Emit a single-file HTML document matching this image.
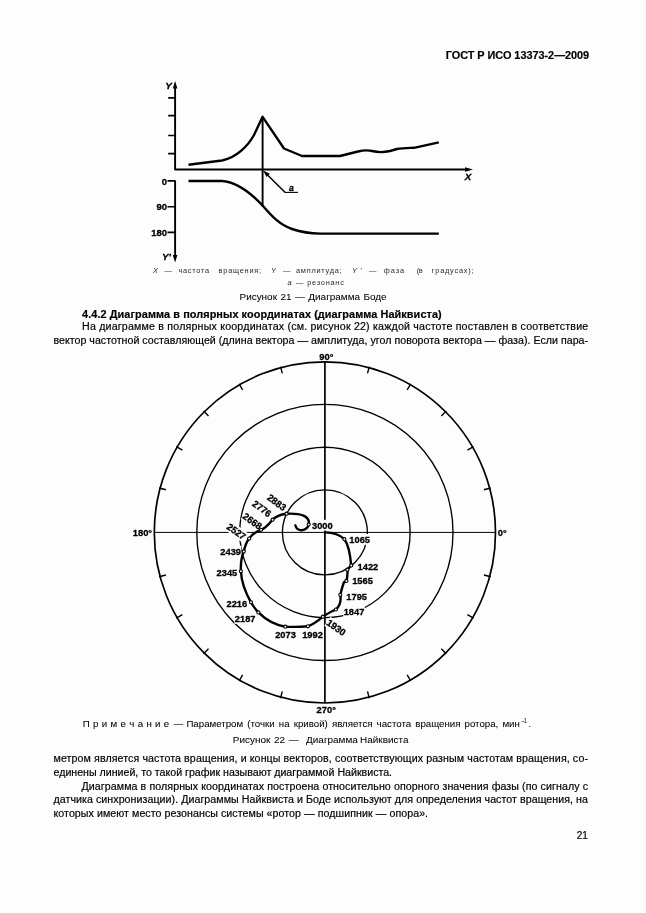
<!DOCTYPE html>
<html lang="ru"><head><meta charset="utf-8"><title>ГОСТ Р ИСО 13373-2—2009</title>
<style>
html,body{margin:0;padding:0;background:#fdfdfd;}
body{width:646px;height:913px;position:relative;overflow:hidden;font-family:"Liberation Sans",sans-serif;color:#000;}
.t{position:absolute;white-space:nowrap;line-height:1;-webkit-text-stroke:0.18px #000;}
.t.c{-webkit-text-stroke:0.05px #000;}
.t.s{-webkit-text-stroke:0;color:#2a2a2a;}
.sup{font-size:0.62em;position:relative;top:-0.55em;letter-spacing:0;}
svg{position:absolute;left:0;top:0;}
</style></head><body>
<svg width="646" height="913" viewBox="0 0 646 913">
<g fill="none" stroke="#000" stroke-linecap="butt" stroke-linejoin="round">
<path stroke-width="1.9" d="M175.1 86 V169.5 H468"/>
<path stroke-width="1.6" d="M168.2 97.9 H175 M168.2 115.6 H175 M168.2 135.5 H175 M168.2 153.6 H175"/>
<path stroke-width="1.9" d="M175.1 180.9 V257"/>
<path stroke-width="1.6" d="M167.5 180.9 H175.6 M167.5 206.8 H175 M167.5 232.4 H175"/>
<path stroke-width="1.9" d="M262.6 117 V206.6"/>
<path stroke-width="2.4" d="M188.5 164.8 L222 160.5 C236 158 248 146 254 135 L262.6 116.8 L284 148.5 L302 156 H340 L358 151.5 C364 150 368 150 372 151 C378 152.5 384 152.5 390 151 L397 149 C403 147.8 410 148 414 147.8 L438.8 142.4"/>
<path stroke-width="2.4" d="M188.5 181 H222 C236 182 250 192 263 206 C272 216.5 280 225 292 229 C302 232.3 310 233.5 320 233.6 H438.8"/>
<path stroke-width="1.5" d="M265.5 173 L285 192.3"/><path stroke-width="1.1" d="M284.5 192.4 H298"/>
</g>
<path d="M175.1 80.9 L172.8 88.6 H177.4 Z M175.1 262.6 L172.8 254.9 H177.4 Z M473 169.5 L465 167.2 V171.8 Z M263.0 170.4 L269.8 173.8 L266.6 177.1 Z" fill="#000"/>
<g fill="none" stroke="#000">
<circle cx="324.9" cy="532.4" r="42.5" stroke-width="1.35"/>
<circle cx="324.9" cy="532.4" r="85.2" stroke-width="1.35"/>
<circle cx="324.9" cy="532.4" r="128.1" stroke-width="1.35"/>
<circle cx="324.9" cy="532.4" r="170.6" stroke-width="1.7"/>
<path stroke-width="1.7" d="M324.9 361.8 V703.0"/>
<path stroke-width="1.0" d="M154.3 532.4 H495.5"/>
<path stroke-width="1.4" d="M490.7 488.0 L483.9 489.8 M473.5 446.6 L467.4 450.1 M446.2 411.1 L441.3 416.0 M410.7 383.8 L407.2 389.9 M369.3 366.6 L367.5 373.4 M280.5 366.6 L282.3 373.4 M239.1 383.8 L242.6 389.9 M203.6 411.1 L208.5 416.0 M176.3 446.6 L182.4 450.1 M159.1 488.0 L165.9 489.8 M159.1 576.8 L165.9 575.0 M176.3 618.2 L182.4 614.7 M203.6 653.7 L208.5 648.8 M239.1 681.0 L242.6 674.9 M280.5 698.2 L282.3 691.4 M369.3 698.2 L367.5 691.4 M410.7 681.0 L407.2 674.9 M446.2 653.7 L441.3 648.8 M473.5 618.2 L467.4 614.7 M490.7 576.8 L483.9 575.0"/>
</g>
<g font-family="Liberation Sans, sans-serif" font-size="9.6" font-weight="bold" fill="#000" stroke="#000" stroke-width="0.3">
<rect x="348.9" y="534.0" width="21.5" height="10.8" fill="#fdfdfd" stroke="none"/>
<rect x="357.2" y="560.9" width="21.5" height="10.8" fill="#fdfdfd" stroke="none"/>
<rect x="351.8" y="575.1" width="21.5" height="10.8" fill="#fdfdfd" stroke="none"/>
<rect x="345.9" y="590.9" width="21.5" height="10.8" fill="#fdfdfd" stroke="none"/>
<rect x="343.3" y="605.8" width="21.5" height="10.8" fill="#fdfdfd" stroke="none"/>
<rect x="301.8" y="629.4" width="21.5" height="10.8" fill="#fdfdfd" stroke="none"/>
<rect x="274.8" y="629.2" width="21.5" height="10.8" fill="#fdfdfd" stroke="none"/>
<rect x="311.6" y="519.8" width="21.5" height="10.8" fill="#fdfdfd" stroke="none"/>
<rect x="219.9" y="545.7" width="21.5" height="10.8" fill="#fdfdfd" stroke="none"/>
<rect x="216.2" y="566.7" width="21.5" height="10.8" fill="#fdfdfd" stroke="none"/>
<rect x="226.1" y="597.9" width="21.5" height="10.8" fill="#fdfdfd" stroke="none"/>
<rect x="234.4" y="613.1" width="21.5" height="10.8" fill="#fdfdfd" stroke="none"/>
<rect x="325.4" y="615.5" width="21.5" height="10.8" fill="#fdfdfd" stroke="none" transform="rotate(35 325.8 624.3)"/>
<rect x="266.0" y="497.0" width="21.5" height="10.8" fill="#fdfdfd" stroke="none" transform="rotate(36 276.8 502.4)"/>
<rect x="251.1" y="503.2" width="21.5" height="10.8" fill="#fdfdfd" stroke="none" transform="rotate(36 261.9 508.6)"/>
<rect x="241.7" y="515.8" width="21.5" height="10.8" fill="#fdfdfd" stroke="none" transform="rotate(36 252.5 521.2)"/>
<rect x="225.6" y="526.1" width="21.5" height="10.8" fill="#fdfdfd" stroke="none" transform="rotate(36 236.4 531.5)"/>
</g>
<path fill="none" stroke="#000" stroke-width="2.4" stroke-linecap="round" stroke-linejoin="round" d="M324.9 532.4 C333 532.6 340 534.8 344.4 539.2 C347.6 543.5 350.3 555 351.2 565.4 L347.4 569.7 C347.6 573 347.6 577 346.4 580.9 L344 582.3 C342.5 586 341.5 590 340.3 594.8 C341.3 601 339.8 606 335.9 609.5 C331 611.5 327 614 322.9 616.7 C318 621 313 624.5 307.9 626.3 C300 627 293 627 285.4 626.7 C275 625 265 619 258.4 612.4 C255 609 253 606 251.0 602.3 C245 592 241.5 582 240.9 571.3 C240.5 564 241.5 557 243.8 551.4 C245 546 246.5 542 249.1 538.6 C252 534.5 256 531.5 261.0 529.8 C266 528 269 524 272.6 519.7 C276 516 281 514.3 286.5 513.7 C291 513.5 299 513.7 303.5 515.6 C308 517.8 309.6 521 308.7 524.5 C308 528 304.5 530.3 301 530.2 C298 530 296 527.8 295.3 525.3"/>
<g fill="#fdfdfd" stroke="#000" stroke-width="1.1">
<circle cx="344.4" cy="539.2" r="1.55"/>
<circle cx="351.2" cy="565.4" r="1.55"/>
<circle cx="346.4" cy="580.9" r="1.55"/>
<circle cx="340.3" cy="594.8" r="1.55"/>
<circle cx="335.9" cy="609.5" r="1.55"/>
<circle cx="322.9" cy="616.7" r="1.55"/>
<circle cx="307.9" cy="626.3" r="1.55"/>
<circle cx="285.4" cy="626.7" r="1.55"/>
<circle cx="258.4" cy="612.4" r="1.55"/>
<circle cx="251.0" cy="602.3" r="1.55"/>
<circle cx="240.9" cy="571.3" r="1.55"/>
<circle cx="243.8" cy="551.4" r="1.55"/>
<circle cx="249.1" cy="538.6" r="1.55"/>
<circle cx="261.0" cy="529.8" r="1.55"/>
<circle cx="272.6" cy="519.7" r="1.55"/>
<circle cx="286.5" cy="513.7" r="1.55"/>
<circle cx="308.7" cy="524.5" r="1.55"/>
<circle cx="347.4" cy="569.7" r="1.55"/>
</g>
<g font-family="Liberation Sans, sans-serif" font-size="9.6" font-weight="bold" fill="#000" stroke="#000" stroke-width="0.3">
<text x="349.3" y="542.8" text-anchor="start" textLength="20.7" lengthAdjust="spacingAndGlyphs">1065</text>
<text x="357.6" y="569.7" text-anchor="start" textLength="20.7" lengthAdjust="spacingAndGlyphs">1422</text>
<text x="352.2" y="583.9" text-anchor="start" textLength="20.7" lengthAdjust="spacingAndGlyphs">1565</text>
<text x="346.3" y="599.7" text-anchor="start" textLength="20.7" lengthAdjust="spacingAndGlyphs">1795</text>
<text x="343.7" y="614.6" text-anchor="start" textLength="20.7" lengthAdjust="spacingAndGlyphs">1847</text>
<text x="302.2" y="638.2" text-anchor="start" textLength="20.7" lengthAdjust="spacingAndGlyphs">1992</text>
<text x="275.2" y="638.0" text-anchor="start" textLength="20.7" lengthAdjust="spacingAndGlyphs">2073</text>
<text x="312.0" y="528.6" text-anchor="start" textLength="20.7" lengthAdjust="spacingAndGlyphs">3000</text>
<text x="241.0" y="554.5" text-anchor="end" textLength="20.7" lengthAdjust="spacingAndGlyphs">2439</text>
<text x="237.3" y="575.5" text-anchor="end" textLength="20.7" lengthAdjust="spacingAndGlyphs">2345</text>
<text x="247.2" y="606.7" text-anchor="end" textLength="20.7" lengthAdjust="spacingAndGlyphs">2216</text>
<text x="255.5" y="621.9" text-anchor="end" textLength="20.7" lengthAdjust="spacingAndGlyphs">2187</text>
<text x="325.8" y="624.3" text-anchor="start" textLength="20.7" lengthAdjust="spacingAndGlyphs" transform="rotate(35 325.8 624.3)">1930</text>
<text x="276.8" y="505.79999999999995" text-anchor="middle" textLength="20.7" lengthAdjust="spacingAndGlyphs" transform="rotate(36 276.8 502.4)">2883</text>
<text x="261.9" y="512.0" text-anchor="middle" textLength="20.7" lengthAdjust="spacingAndGlyphs" transform="rotate(36 261.9 508.6)">2776</text>
<text x="252.5" y="524.6" text-anchor="middle" textLength="20.7" lengthAdjust="spacingAndGlyphs" transform="rotate(36 252.5 521.2)">2668</text>
<text x="236.4" y="534.9" text-anchor="middle" textLength="20.7" lengthAdjust="spacingAndGlyphs" transform="rotate(36 236.4 531.5)">2527</text>
<text x="319.3" y="359.5" text-anchor="start" textLength="14.1" lengthAdjust="spacingAndGlyphs">90°</text>
<text x="132.8" y="535.5" text-anchor="start" textLength="19.3" lengthAdjust="spacingAndGlyphs">180°</text>
<text x="497.8" y="535.5" text-anchor="start" textLength="8.9" lengthAdjust="spacingAndGlyphs">0°</text>
<text x="316.6" y="712.9" text-anchor="start" textLength="19.3" lengthAdjust="spacingAndGlyphs">270°</text>
<text x="165.2" y="89.3" font-style="italic" font-size="9.8">Y</text>
<text x="464.8" y="180.2" font-style="italic" font-size="9.8">X</text>
<text x="162.0" y="260.3" font-style="italic" font-size="9.8">Y'</text>
<text x="167" y="184.5" text-anchor="end" textLength="5.3" lengthAdjust="spacingAndGlyphs">0</text>
<text x="167" y="210.4" text-anchor="end" textLength="10.6" lengthAdjust="spacingAndGlyphs">90</text>
<text x="167" y="236.0" text-anchor="end" textLength="15.8" lengthAdjust="spacingAndGlyphs">180</text>
<text x="289" y="190.6" font-style="italic" font-size="8.6">a</text>
</g>
</svg>
<div class="t" style="left:445.7px;top:50.17px;font-size:10.9px;font-weight:bold;letter-spacing:-0.027px;">ГОСТ Р ИСО 13373-2—2009</div>
<div class="t c" style="left:239.5px;top:291.78px;font-size:9.95px;word-spacing:0.690px;">Рисунок 21 — Диаграмма Боде</div>
<div class="t" style="left:82.1px;top:309.17px;font-size:10.9px;font-weight:bold;letter-spacing:0.070px;">4.4.2 Диаграмма в полярных координатах (диаграмма Найквиста)</div>
<div class="t" style="left:82.0px;top:320.98px;font-size:10.65px;letter-spacing:0.191px;">На диаграмме в полярных координатах (см. рисунок 22) каждой частоте поставлен в соответствие</div>
<div class="t" style="left:53.4px;top:334.68px;font-size:10.65px;letter-spacing:0.022px;">вектор частотной составляющей (длина вектора — амплитуда, угол поворота вектора — фаза). Если пара-</div>
<div class="t c" style="left:232.8px;top:734.58px;font-size:9.95px;word-spacing:0.958px;">Рисунок 22 —</div>
<div class="t c" style="left:306.1px;top:734.58px;font-size:9.95px;word-spacing:-0.436px;">Диаграмма Найквиста</div>
<div class="t" style="left:53.5px;top:753.28px;font-size:10.65px;letter-spacing:0.100px;">метром является частота вращения, и концы векторов, соответствующих разным частотам вращения, со-</div>
<div class="t" style="left:53.5px;top:766.78px;font-size:10.65px;letter-spacing:-0.007px;">единены линией, то такой график называют диаграммой Найквиста.</div>
<div class="t" style="left:81.5px;top:781.18px;font-size:10.65px;letter-spacing:0.082px;">Диаграмма в полярных координатах построена относительно опорного значения фазы (по сигналу с</div>
<div class="t" style="left:53.5px;top:794.18px;font-size:10.65px;letter-spacing:0.055px;">датчика синхронизации). Диаграммы Найквиста и Боде используют для определения частот вращения, на</div>
<div class="t" style="left:53.5px;top:807.78px;font-size:10.65px;letter-spacing:0.057px;">которых имеют место резонансы системы «ротор — подшипник — опора».</div>
<div class="t" style="left:576.8px;top:831.13px;font-size:10.0px;">21</div>
<div class="t s" style="left:153.1px;top:267.44px;font-size:7.4px;font-style:italic;">X</div>
<div class="t s" style="left:164.5px;top:267.44px;font-size:7.4px;">—</div>
<div class="t s" style="left:178.5px;top:267.44px;font-size:7.4px;letter-spacing:0.706px;">частота</div>
<div class="t s" style="left:218.6px;top:267.44px;font-size:7.4px;letter-spacing:0.753px;">вращения;</div>
<div class="t s" style="left:270.9px;top:267.44px;font-size:7.4px;font-style:italic;">Y</div>
<div class="t s" style="left:283.0px;top:267.44px;font-size:7.4px;">—</div>
<div class="t s" style="left:296.0px;top:267.44px;font-size:7.4px;letter-spacing:0.735px;">амплитуда;</div>
<div class="t s" style="left:351.9px;top:267.44px;font-size:7.4px;font-style:italic;">Y</div>
<div class="t s" style="left:360.5px;top:267.44px;font-size:7.4px;">'</div>
<div class="t s" style="left:369.0px;top:267.44px;font-size:7.4px;">—</div>
<div class="t s" style="left:383.8px;top:267.44px;font-size:7.4px;letter-spacing:0.922px;">фаза</div>
<div class="t s" style="left:416.7px;top:267.44px;font-size:7.4px;letter-spacing:-0.306px;">(в</div>
<div class="t s" style="left:431.8px;top:267.44px;font-size:7.4px;letter-spacing:0.766px;">градусах);</div>
<div class="t s" style="left:287.6px;top:278.54px;font-size:7.4px;font-style:italic;">a</div>
<div class="t s" style="left:296.0px;top:278.54px;font-size:7.4px;">—</div>
<div class="t s" style="left:307.2px;top:278.54px;font-size:7.4px;letter-spacing:0.745px;">резонанс</div>
<div class="t c" style="left:82.8px;top:718.69px;font-size:9.7px;letter-spacing:0.321px;">П р и м е ч а н и е</div>
<div class="t c" style="left:173.6px;top:718.69px;font-size:9.7px;">—</div>
<div class="t c" style="left:186.4px;top:718.69px;font-size:9.7px;word-spacing:1.445px;">Параметром (точки на кривой) является частота вращения ротора, мин</div>
<div class="t s" style="left:521.2px;top:718.27px;font-size:6.3px;letter-spacing:-1.009px;">–1</div>
<div class="t c" style="left:528.6px;top:718.69px;font-size:9.7px;">.</div>
</body></html>
